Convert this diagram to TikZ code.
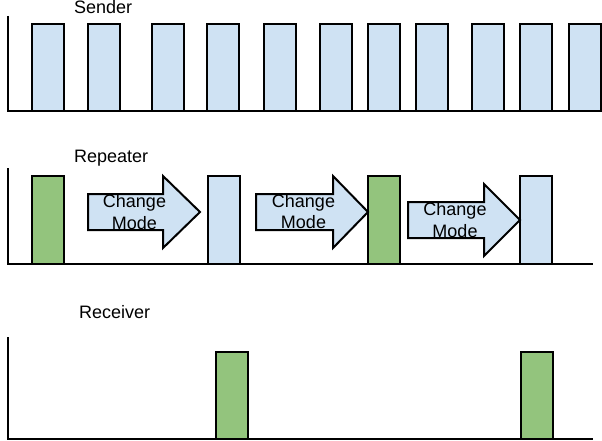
\documentclass[tikz,border=0pt]{standalone}
\usepackage{fontspec}
\setmainfont{Liberation Sans}
\definecolor{barblue}{HTML}{CFE2F3}
\definecolor{bargreen}{HTML}{93C47D}
\tikzset{
  axisline/.style={draw=black, line width=2pt},
  bluebar/.style={draw=black, fill=barblue, line width=2pt},
  greenbar/.style={draw=black, fill=bargreen, line width=2pt},
  modearrow/.style={draw=black, fill=barblue, line width=2pt, line join=miter},
  lbl/.style={inner sep=0pt, font=\fontsize{18}{22}\selectfont},
}
\begin{document}
\begin{tikzpicture}[x=1pt, y=-1pt]
\useasboundingbox (0,0) rectangle (602,441);
% Sender
\node[lbl, anchor=base west] (sender) at (74,14) {Sender};
\draw[axisline] (8,16) |- (602,111);
\foreach \x in {32,88,152,207,264,320,368,416,472,520,569}
  \draw[bluebar] (\x,24) rectangle ++(32,87);
% Repeater
\node[lbl, anchor=base west] (repeater) at (74,162) {Repeater};
\draw[greenbar] (32,176) rectangle (64,264);
\draw[bluebar] (208,176) rectangle (240,264);
\draw[greenbar] (368,176) rectangle (400,264);
\draw[bluebar] (520,176) rectangle (552,264);
\draw[modearrow] (88,194) -- (163,194) -- (163,176) -- (200,212) -- (163,248) -- (163,230) -- (88,230) -- cycle;
\draw[modearrow] (256,194) -- (333,194) -- (333,176) -- (368,212) -- (333,248) -- (333,230) -- (256,230) -- cycle;
\draw[modearrow] (408,202) -- (484,202) -- (484,184) -- (520,220) -- (484,256) -- (484,238) -- (408,238) -- cycle;
\node[lbl, anchor=base] (c1a) at (134.5,207.5) {Change};
\node[lbl, anchor=base] (c1b) at (134.5,229) {Mode};
\node[lbl, anchor=base] (c2a) at (303.5,207) {Change};
\node[lbl, anchor=base] (c2b) at (303.5,228.5) {Mode};
\node[lbl, anchor=base] (c3a) at (455,215) {Change};
\node[lbl, anchor=base] (c3b) at (455,237) {Mode};
\draw[axisline] (8,168) |- (593,264);
% Receiver
\node[lbl, anchor=base west] (receiver) at (79,318) {Receiver};
\draw[axisline] (8,337) |- (593,439);
\draw[greenbar] (216,352) rectangle (248,439);
\draw[greenbar] (521,352) rectangle (553,439);
\end{tikzpicture}
\end{document}
